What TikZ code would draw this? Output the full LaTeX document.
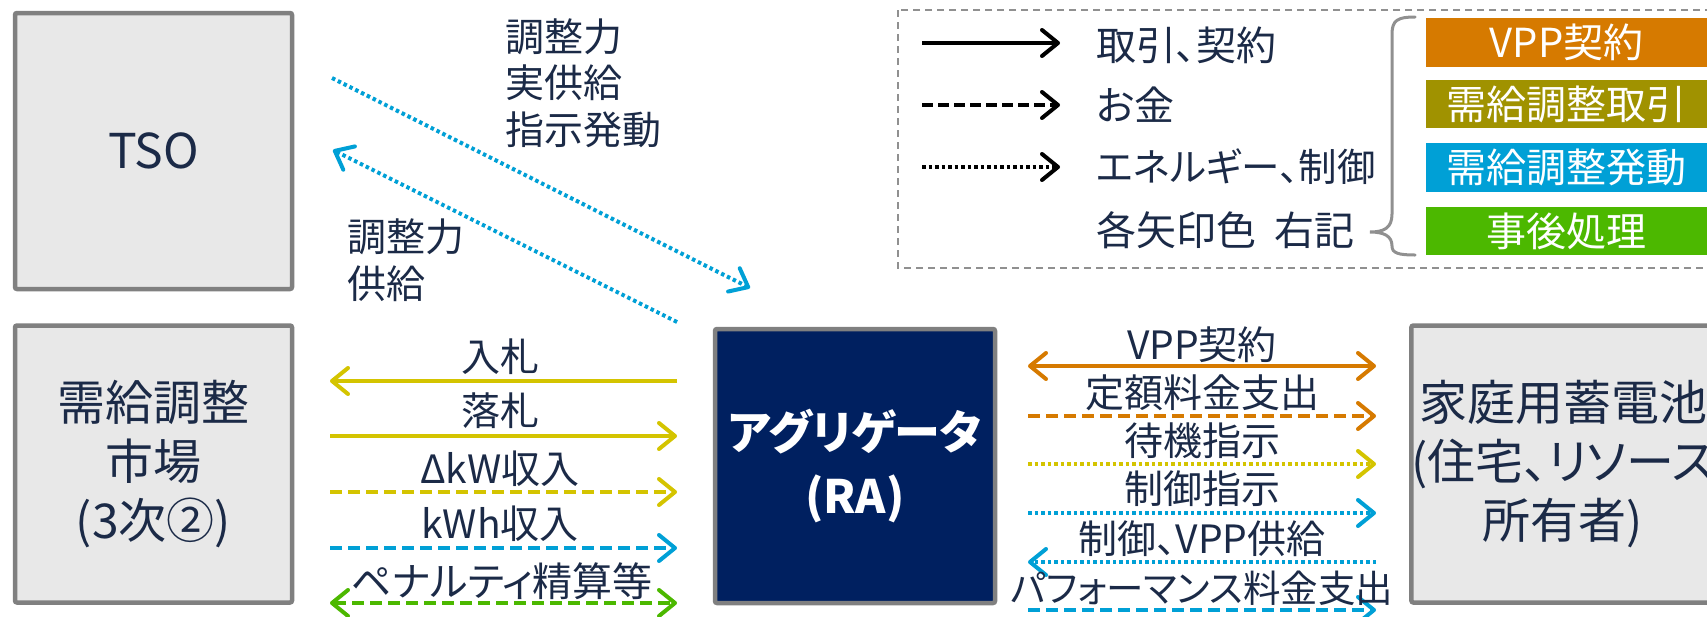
\documentclass[tikz,border=0pt]{standalone}
\usepackage{fontspec}
\setmainfont{Noto Sans CJK JP}[RawFeature=+palt]
\usetikzlibrary{arrows.meta}
\definecolor{txt}{HTML}{1B2A47}
\definecolor{boxgray}{HTML}{E8E8E8}
\definecolor{bordergray}{HTML}{808080}
\definecolor{navy}{HTML}{002060}
\definecolor{cyel}{RGB}{212,196,0}
\definecolor{corg}{RGB}{214,122,0}
\definecolor{cblu}{RGB}{0,160,214}
\definecolor{cgrn}{RGB}{76,184,0}
\definecolor{coliv}{RGB}{160,146,0}
\definecolor{legray}{HTML}{909090}
\tikzset{
  entity/.style={draw=bordergray, line width=4.5pt, fill=boxgray, rounded corners=2pt,
    minimum width=277pt, minimum height=277pt, inner sep=0pt, text=txt, align=center,
    font=\fontsize{48}{59}\selectfont},
  lbl/.style={text=txt, font=\fontsize{39}{46.5}\selectfont, inner sep=0pt},
  legtxt/.style={text=txt, font=\fontsize{40}{48}\selectfont, inner sep=0pt, anchor=west},
  sol/.style={line width=4pt},
  dsh/.style={line width=4pt, dash pattern=on 12pt off 6pt},
  dotl/.style={line width=4pt, dash pattern=on 3.5pt off 3pt},
  legbox/.style={minimum width=281pt, minimum height=48.5pt, inner sep=0pt, text=white,
    font=\fontsize{40}{48}\selectfont},
}
\begin{document}
\begin{tikzpicture}[x=1pt,y=-1pt, >={Straight Barb[length=16pt,width=26pt,round]}]
\useasboundingbox (0,0) rectangle (1707,616);

% main boxes
\node[entity, minimum height=276pt] (tso) at (153.5,151) {TSO};
\node[entity] (mkt) at (153.5,464) {需給調整\\市場\\(3次②)};
\node[entity, fill=navy, text=white, minimum width=280pt, minimum height=274pt,
  font=\fontsize{46}{64}\selectfont\bfseries] (ra) at (855,466) {アグリゲータ\\(RA)};
\node[entity, minimum width=300pt] (home) at (1563,464) {家庭用蓄電池\\(住宅、リソース\\所有者)};

% TSO arrows
\coordinate (ta1) at (332,78);
\coordinate (ta2) at (750,288);
\coordinate (tb1) at (677,322);
\coordinate (tb2) at (333,150);
\draw[dotl, cblu, ->] (ta1) -- (ta2);
\draw[dotl, cblu, ->] (tb1) -- (tb2);
\node[lbl, anchor=west, align=left] (tl1) at (505,83) {調整力\\実供給\\指示発動};
\node[lbl, anchor=west, align=left] (tl2) at (347,260) {調整力\\供給};

% market <-> RA
\coordinate (mL1) at (330,381); \coordinate (mR1) at (677,381);
\coordinate (mL2) at (330,436); \coordinate (mR2) at (677,436);
\coordinate (mL3) at (330,492); \coordinate (mR3) at (677,492);
\coordinate (mL4) at (330,548); \coordinate (mR4) at (677,548);
\coordinate (mL5) at (330,603); \coordinate (mR5) at (677,603);
\draw[sol, cyel, ->] (mR1) -- (mL1);
\draw[sol, cyel, ->] (mL2) -- (mR2);
\draw[dsh, cyel, ->] (mL3) -- (mR3);
\draw[dsh, cblu, ->] (mL4) -- (mR4);
\draw[dsh, cgrn, <->] (mL5) -- (mR5);
\node[lbl] (ml1) at (500,357) {入札};
\node[lbl] (ml2) at (500,411) {落札};
\node[lbl] (ml3) at (500,469) {ΔkW収入};
\node[lbl] (ml4) at (500,524) {kWh収入};
\node[lbl, font=\fontsize{40}{46.5}\selectfont] (ml5) at (502,581) {ペナルティ精算等};

% RA <-> home
\coordinate (hL1) at (1028,366); \coordinate (hR1) at (1376,366);
\coordinate (hL2) at (1028,416); \coordinate (hR2) at (1376,416);
\coordinate (hL3) at (1028,464); \coordinate (hR3) at (1376,464);
\coordinate (hL4) at (1028,513); \coordinate (hR4) at (1376,513);
\coordinate (hL5) at (1028,562); \coordinate (hR5) at (1376,562);
\coordinate (hL6) at (1028,610); \coordinate (hR6) at (1376,610);
\draw[sol, corg, <->] (hL1) -- (hR1);
\draw[dsh, corg, ->] (hL2) -- (hR2);
\draw[dotl, cyel, ->] (hL3) -- (hR3);
\draw[dotl, cblu, ->] (hL4) -- (hR4);
\draw[dotl, cblu, ->] (hR5) -- (hL5);
\draw[dsh, cblu, ->] (hL6) -- (hR6);
\node[lbl] (hl1) at (1202,345) {VPP契約};
\node[lbl] (hl2) at (1202,393) {定額料金支出};
\node[lbl] (hl3) at (1202,441) {待機指示};
\node[lbl] (hl4) at (1202,489) {制御指示};
\node[lbl] (hl5) at (1202,539) {制御、VPP供給};
\node[lbl, font=\fontsize{37.5}{46.5}\selectfont] (hl6) at (1202,588) {パフォーマンス料金支出};

% legend
\draw[legray, line width=2pt, dash pattern=on 7pt off 5pt] (898,10) rectangle (1725,268);
\coordinate (g1a) at (922,43);  \coordinate (g1b) at (1060,43);
\coordinate (g2a) at (922,105); \coordinate (g2b) at (1060,105);
\coordinate (g3a) at (922,167); \coordinate (g3b) at (1060,167);
\draw[sol, black, ->] (g1a) -- (g1b);
\draw[line width=4pt, dash pattern=on 11pt off 5pt, black, ->] (g2a) -- (g2b);
\draw[line width=4pt, dash pattern=on 3.5pt off 3pt, black, ->] (g3a) -- (g3b);
\node[legtxt] (gt1) at (1096,45) {取引、契約};
\node[legtxt] (gt2) at (1096,105) {お金};
\node[legtxt, font=\fontsize{38.5}{48}\selectfont] (gt3) at (1096,167) {エネルギー、制御};
\node[legtxt] (gt4) at (1096,230) {各矢印色\hspace{18pt}右記};
\draw[legray, line width=3pt, line cap=round]
  (1415,17) .. controls (1398,17) and (1392,20) .. (1392,34)
  -- (1392,214) .. controls (1392,228) and (1384,232) .. (1370,232)
  .. controls (1384,232) and (1392,236) .. (1392,246)
  .. controls (1392,253) and (1398,255) .. (1415,255);
\node[legbox, fill=corg] (k1) at (1566.5,42.5) {VPP契約};
\node[legbox, fill=coliv] (k2) at (1566.5,104) {需給調整取引};
\node[legbox, fill=cblu] (k3) at (1566.5,167.5) {需給調整発動};
\node[legbox, fill=cgrn] (k4) at (1566.5,231) {事後処理};
\end{tikzpicture}
\end{document}
